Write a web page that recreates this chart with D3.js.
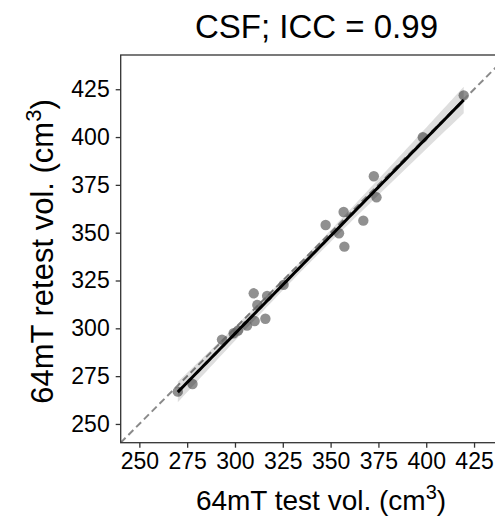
<!DOCTYPE html>
<html>
<head>
<meta charset="utf-8">
<script src="https://d3js.org/d3.v7.min.js"></script>
<style>
  body { margin: 0; padding: 0; background: #fff; }
  text { font-family: "Liberation Sans", Arial, sans-serif; fill: #000; }
</style>
</head>
<body>
<div id="chart"></div>
<script>
// test / retest CSF volumes (cm3)
var testVol = [270.1, 277.8, 293.2, 299.3, 301.6, 306.3, 309.8, 310.3, 311.7, 315.9, 316.8,
               325.4, 347.4, 354.4, 356.8, 357.2, 367.1, 372.6, 374.0, 398.2, 419.6];
var retestVol = [266.9, 270.9, 294.1, 297.4, 298.8, 301.4, 318.3, 303.8, 312.2, 305.0, 316.9,
                 322.7, 354.0, 349.7, 360.8, 342.7, 356.3, 379.5, 368.5, 399.9, 421.8];
var tickValues = [250, 275, 300, 325, 350, 375, 400, 425];
var xDomain = [240.25, 437];
var yDomain = [240.2, 442.9];
var title = "CSF; ICC = 0.99";

var width = 495, height = 519;
var margin = { top: 55, right: -2, bottom: 76.3, left: 120.7 };

var svg = d3.select("#chart").append("svg")
    .attr("width", width)
    .attr("height", height);

var x = d3.scaleLinear().domain(xDomain).range([margin.left, width - margin.right]);
var y = d3.scaleLinear().domain(yDomain).range([height - margin.bottom, margin.top]);

var data = testVol.map((v, i) => ({ x: v, y: retestVol[i] }));

// least squares fit + 95% confidence band
var n = data.length;
var xbar = d3.mean(data, d => d.x), ybar = d3.mean(data, d => d.y);
var sxx = d3.sum(data, d => (d.x - xbar) ** 2);
var sxy = d3.sum(data, d => (d.x - xbar) * (d.y - ybar));
var slope = sxy / sxx, intercept = ybar - slope * xbar;
var sse = d3.sum(data, d => (d.y - (intercept + slope * d.x)) ** 2);
var se = Math.sqrt(sse / (n - 2));
var tval = 2.093;
var xmin = d3.min(testVol), xmax = d3.max(testVol);
var grid = d3.range(0, 101).map(i => xmin + (xmax - xmin) * i / 100);
var band = grid.map(g => {
    var yh = intercept + slope * g;
    var w = tval * se * Math.sqrt(1 / n + (g - xbar) ** 2 / sxx);
    return { x: g, lo: yh - w, hi: yh + w, y: yh };
});

svg.append("clipPath").attr("id", "clip")
  .append("rect")
    .attr("x", margin.left).attr("y", margin.top)
    .attr("width", width - margin.left - margin.right)
    .attr("height", height - margin.top - margin.bottom);

var plot = svg.append("g").attr("clip-path", "url(#clip)");

// identity line
plot.append("line")
    .attr("x1", x(yDomain[0])).attr("y1", y(yDomain[0]))
    .attr("x2", x(460)).attr("y2", y(460))
    .attr("stroke", "#8a8a8a")
    .attr("stroke-width", 2)
    .attr("stroke-dasharray", "7,4");

plot.selectAll("circle")
    .data(data)
    .enter().append("circle")
    .attr("cx", d => x(d.x))
    .attr("cy", d => y(d.y))
    .attr("r", 5.2)
    .attr("fill", "#777")
    .attr("fill-opacity", 0.82);

plot.append("path")
    .datum(band)
    .attr("d", d3.area().x(d => x(d.x)).y0(d => y(d.lo)).y1(d => y(d.hi)))
    .attr("fill", "#000")
    .attr("fill-opacity", 0.13);

plot.append("path")
    .datum(band)
    .attr("d", d3.line().x(d => x(d.x)).y(d => y(d.y)))
    .attr("fill", "none")
    .attr("stroke", "#000")
    .attr("stroke-width", 3);

// frame
svg.append("rect")
    .attr("x", margin.left).attr("y", margin.top)
    .attr("width", width - margin.left - margin.right)
    .attr("height", height - margin.top - margin.bottom)
    .attr("fill", "none")
    .attr("stroke", "#333")
    .attr("stroke-width", 1.3);

var xAxis = svg.append("g")
    .attr("transform", `translate(0,${height - margin.bottom})`)
    .call(d3.axisBottom(x).tickValues(tickValues).tickSize(5).tickPadding(5));
var yAxis = svg.append("g")
    .attr("transform", `translate(${margin.left},0)`)
    .call(d3.axisLeft(y).tickValues(tickValues).tickSize(5).tickPadding(6));

[xAxis, yAxis].forEach(a => {
    a.select(".domain").remove();
    a.selectAll(".tick line").attr("stroke", "#333").attr("stroke-width", 1.3);
    a.selectAll(".tick text").style("font-size", "23px").attr("fill", "#000");
});

svg.append("text")
    .attr("x", 316.5).attr("y", 37.5)
    .attr("text-anchor", "middle")
    .style("font-size", "33px")
    .text(title);

var xl = svg.append("text")
    .attr("x", 321).attr("y", 510)
    .attr("text-anchor", "middle")
    .style("font-size", "28px");
xl.append("tspan").text("64mT test vol. (cm");
xl.append("tspan").attr("dy", -11).style("font-size", "20px").text("3");
xl.append("tspan").attr("dy", 11).text(")");

var yl = svg.append("text")
    .attr("transform", "translate(53,251.5) rotate(-90)")
    .attr("text-anchor", "middle")
    .style("font-size", "31px");
yl.append("tspan").text("64mT retest vol. (cm");
yl.append("tspan").attr("dy", -12).style("font-size", "22px").text("3");
yl.append("tspan").attr("dy", 12).text(")");
</script>
</body>
</html>
